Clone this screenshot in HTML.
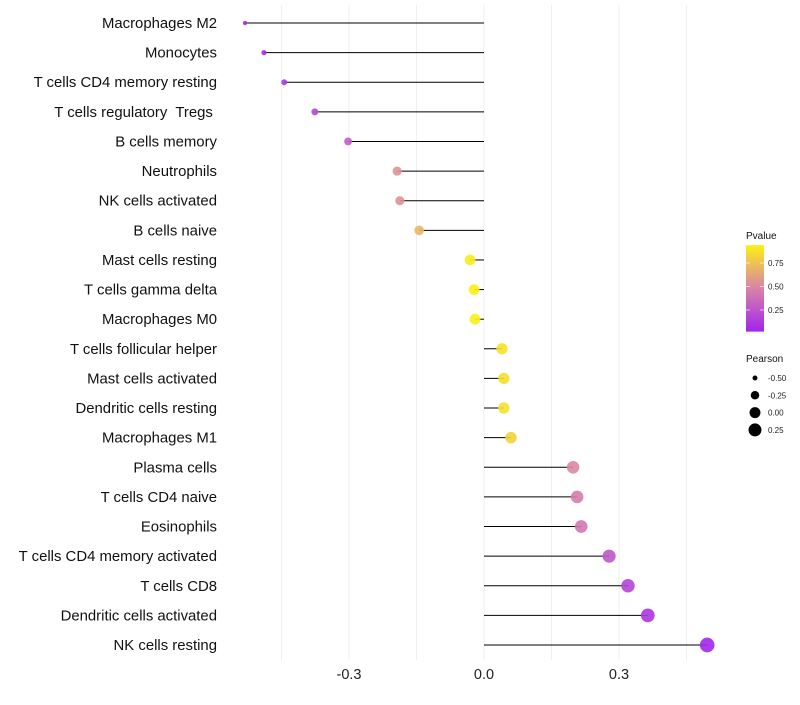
<!DOCTYPE html>
<html><head><meta charset="utf-8"><style>
body{margin:0;background:#fff;font-family:"Liberation Sans",sans-serif}
</style></head><body>
<svg id="c" width="800" height="700" xmlns="http://www.w3.org/2000/svg"></svg>
<script>
const categories=["Macrophages M2","Monocytes","T cells CD4 memory resting","T cells regulatory  Tregs ","B cells memory","Neutrophils","NK cells activated","B cells naive","Mast cells resting","T cells gamma delta","Macrophages M0","T cells follicular helper","Mast cells activated","Dendritic cells resting","Macrophages M1","Plasma cells","T cells CD4 naive","Eosinophils","T cells CD4 memory activated","T cells CD8","Dendritic cells activated","NK cells resting"];
const pearson=[-0.531,-0.489,-0.444,-0.376,-0.302,-0.193,-0.187,-0.144,-0.031,-0.022,-0.020,0.040,0.044,0.044,0.060,0.198,0.207,0.216,0.278,0.320,0.364,0.496];
const pvalue=[0.04,0.07,0.12,0.2,0.3,0.55,0.55,0.7,0.92,0.94,0.94,0.88,0.87,0.87,0.82,0.5,0.45,0.42,0.27,0.18,0.1,0.03];
const xTicks=[-0.3,0,0.3];
const xTickLabels=["-0.3","0.0","0.3"];
const gridMinor=[-0.45,-0.15,0.15,0.45];
const legendSizes=[-0.5,-0.25,0,0.25];
const legendSizeLabels=["-0.50","-0.25","0.00","0.25"];
const pTicks=[0.75,0.5,0.25];
const pTickLabels=["0.75","0.50","0.25"];

const svg=document.getElementById('c');const NS="http://www.w3.org/2000/svg";
function mk(t,a,p){const e=document.createElementNS(NS,t);for(const k in a)e.setAttribute(k,a[k]);(p||svg).appendChild(e);return e;}
const xS=v=>484+v*450;
const yS=i=>23+i*(622/21);
const rS=v=>Math.sqrt(Math.max(2,30+47.7*v));
function col(p){const s=[[0,[160,32,240]],[0.5,[218,135,165]],[1,[255,255,0]]];
 let a=s[0],b=s[1];if(p>0.5){a=s[1];b=s[2];}
 const t=(p-a[0])/(b[0]-a[0]);const c=a[1].map((v,i)=>Math.round(v+(b[1][i]-v)*t));return `rgb(${c})`;}
xTicks.concat(gridMinor).forEach(v=>{const g=mk('line',{x1:xS(v),x2:xS(v),y1:5,y2:660,stroke:'#ebebeb','stroke-width':0.8});

});
xTicks.forEach((v,i)=>{const t=mk('text',{x:xS(v),y:679,'text-anchor':'middle','font-size':14.5,fill:'#222'});t.textContent=xTickLabels[i];

});
categories.forEach((c,i)=>{const y=yS(i);
 const t=mk('text',{x:217,y:y+5,'text-anchor':'end','font-size':14.9,fill:'#111','xml:space':'preserve'});t.style.whiteSpace='pre';t.textContent=c;
 
 
 const l=mk('line',{x1:xS(0),x2:xS(pearson[i]),y1:y,y2:y,stroke:'#000','stroke-width':1});
 
 
 const d=mk('circle',{cx:xS(pearson[i]),cy:y,r:rS(pearson[i]),fill:col(pvalue[i]),'fill-opacity':0.9});
 
 
});
const lt=mk('text',{x:746,y:239,'font-size':10,fill:'#111'});lt.textContent="Pvalue";


const defs=mk('defs',{});const lg=mk('linearGradient',{id:'g',x1:0,y1:1,x2:0,y2:0},defs);
[0,0.25,0.5,0.75,1].forEach(o=>mk('stop',{offset:o,'stop-color':col(0.02+o*0.92)},lg));
const pY=p=>333.5-p*94;
const bar=mk('rect',{x:746,y:pY(0.94),width:18,height:pY(0.02)-pY(0.94),fill:'url(#g)'});


pTicks.forEach((p,i)=>{mk('line',{x1:746,x2:750,y1:pY(p),y2:pY(p),stroke:'#fff','stroke-width':0.6});mk('line',{x1:760,x2:764,y1:pY(p),y2:pY(p),stroke:'#fff','stroke-width':0.6});
const t=mk('text',{x:768,y:pY(p)+3,'font-size':8,fill:'#222'});t.textContent=pTickLabels[i];

});
const st=mk('text',{x:746,y:362,'font-size':10,fill:'#111'});st.textContent="Pearson";


legendSizes.forEach((v,i)=>{const y=378+i*17.3;const c=mk('circle',{cx:755,cy:y,r:rS(v),fill:'#000'});


const t=mk('text',{x:768,y:y+3,'font-size':8,fill:'#222'});t.textContent=legendSizeLabels[i];

});
</script>
</body></html>
